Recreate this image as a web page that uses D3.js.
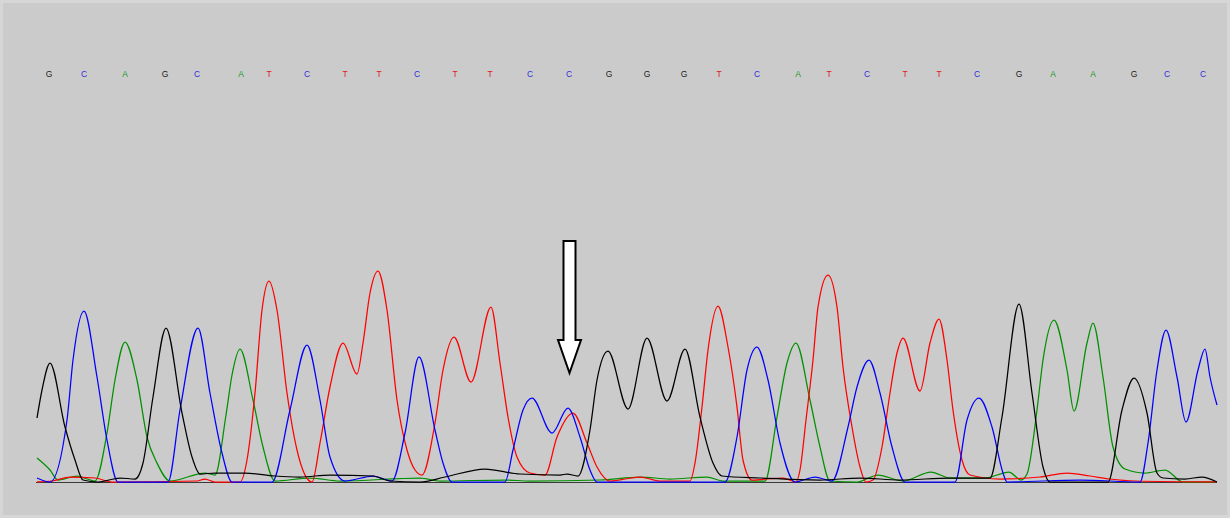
<!DOCTYPE html>
<html>
<head>
<meta charset="utf-8">
<script src="https://cdn.jsdelivr.net/npm/d3@7"></script>
<style>
  html, body { margin: 0; padding: 0; background: #d6d6d6; }
  svg { display: block; }
</style>
</head>
<body>
<svg id="trace" width="1230" height="518"></svg>
<script>
// Base calls and their scan positions
const bases = ["G","C","A","G","C","A","T","C","T","T","C","T","T","C","C","G","G","G","T","C","A","T","C","T","T","C","G","A","A","G","C","C"];
const basePositions = [12, 47, 88, 128, 160, 204, 232, 270, 308, 342, 380, 418, 453, 493, 532, 572, 610, 647, 682, 720, 761, 792, 830, 868, 902, 940, 982, 1016, 1056, 1097, 1130, 1166];

// Fluorescence traces: [scan, signal] read at peaks, valleys and flanks
const traceG = [[0,64],[5,92],[13,119],[28,55],[38,22],[46,2],[61,0],[83,4],[98,3],[106,19],[116,85],[129,154],[145,69],[155,25],[163,8],[178,9],[208,9],[238,6],[263,5],[293,7],[336,6],[353,1],[383,0],[408,5],[448,13],[483,8],[523,7],[530,8],[541,6],[553,52],[560,102],[571,131],[591,73],[610,144],[630,81],[648,133],[663,65],[676,19],[685,6],[723,4],[783,2],[823,4],[863,2],[913,4],[953,4],[965,65],[982,178],[995,89],[1006,15],[1013,0],[1071,0],[1085,72],[1097,104],[1110,69],[1120,9],[1126,4],[1148,3],[1165,5],[1180,0]];

const traceC = [[0,4],[13,0],[30,62],[36,122],[47,171],[60,105],[70,42],[81,0],[131,0],[143,72],[161,154],[173,89],[185,29],[195,0],[235,0],[253,72],[270,137],[283,82],[293,25],[308,1],[336,6],[355,1],[368,49],[382,125],[398,52],[406,19],[415,0],[468,0],[476,32],[486,72],[495,84],[515,49],[531,74],[543,45],[553,12],[560,0],[688,0],[700,45],[710,112],[720,135],[731,102],[743,39],[758,0],[778,5],[795,1],[811,55],[820,95],[832,122],[843,89],[855,35],[868,0],[918,0],[930,62],[942,84],[955,55],[966,9],[970,0],[1043,2],[1103,0],[1111,39],[1120,112],[1129,152],[1140,105],[1149,60],[1161,112],[1168,133],[1173,105],[1180,77]];

const traceA = [[0,24],[13,12],[21,2],[40,6],[58,1],[70,49],[78,102],[88,140],[100,102],[110,45],[120,19],[133,1],[168,9],[178,7],[189,67],[195,107],[203,133],[216,82],[226,35],[238,1],[273,4],[303,1],[383,4],[403,1],[468,2],[493,1],[563,2],[603,5],[633,3],[670,5],[686,1],[728,1],[740,65],[750,119],[759,139],[773,82],[783,35],[793,1],[820,0],[841,7],[866,1],[894,10],[913,4],[948,4],[972,10],[984,2],[990,8],[1000,72],[1006,122],[1017,162],[1030,112],[1037,71],[1050,139],[1056,159],[1066,105],[1076,35],[1088,13],[1108,9],[1128,12],[1146,0],[1180,0]];

const traceT = [[0,0],[15,1],[33,5],[58,4],[75,0],[160,1],[168,3],[178,0],[203,0],[210,22],[218,89],[225,172],[232,201],[240,172],[250,89],[260,32],[275,0],[283,39],[293,95],[306,139],[320,108],[326,139],[333,189],[341,211],[350,172],[360,82],[370,32],[378,12],[385,7],[398,59],[406,112],[417,145],[434,100],[454,175],[463,119],[471,65],[480,25],[493,9],[508,7],[520,45],[536,69],[550,39],[560,15],[573,1],[603,5],[623,1],[653,1],[658,19],[665,75],[671,132],[681,176],[691,135],[700,75],[706,22],[715,2],[746,4],[759,0],[763,12],[769,62],[776,122],[781,175],[791,207],[800,175],[806,115],[815,55],[823,15],[829,0],[836,2],[845,35],[853,89],[860,129],[866,144],[883,91],[893,139],[902,163],[910,122],[916,72],[925,22],[933,7],[963,3],[1003,5],[1030,9],[1053,6],[1073,3],[1098,1],[1180,0]];

// Highlighted call (index into bases) and the arrow's vertical extent in signal units
const markedBase = 14;
const arrowTip = 109;
const arrowTail = 241;

const colors = { G: "#000000", C: "#0000ff", A: "#009000", T: "#ff0000" };
const labelColors = { G: "#1e1e1e", C: "#2f2fdd", A: "#1a9a1a", T: "#dd1c1c" };

const svg = d3.select("#trace");

// panel background
svg.append("rect")
  .attr("x", 3).attr("y", 3).attr("width", 1224).attr("height", 512)
  .attr("fill", "#cbcbcb");

const x = d3.scaleLinear().domain([0, 1180]).range([37, 1217]);
const y = d3.scaleLinear().domain([0, 230]).range([482, 252]);

// baseline axis
svg.append("line")
  .attr("x1", x(-1)).attr("x2", x(1180))
  .attr("y1", y(0) + 0.5).attr("y2", y(0) + 0.5)
  .attr("stroke", "#3a3a3a").attr("stroke-width", 1);

const line = d3.line()
  .x(d => x(d[0]))
  .y(d => y(d[1]))
  .curve(d3.curveMonotoneX);

const traces = [
  { base: "A", values: traceA },
  { base: "T", values: traceT },
  { base: "C", values: traceC },
  { base: "G", values: traceG }
];

svg.append("g").selectAll("path")
  .data(traces)
  .join("path")
  .attr("d", d => line(d.values))
  .attr("fill", "none")
  .attr("stroke", d => colors[d.base])
  .attr("stroke-width", 1.25)
  .attr("stroke-linejoin", "round");

// base-call letters
svg.append("g").selectAll("text")
  .data(bases)
  .join("text")
  .attr("x", (d, i) => x(basePositions[i]))
  .attr("y", 76.5)
  .attr("text-anchor", "middle")
  .attr("font-family", "Liberation Sans, Arial, sans-serif")
  .attr("font-size", 8.5)
  .attr("fill", d => labelColors[d])
  .text(d => d);

// arrow marking the mixed call
const ax = x(basePositions[markedBase]) + 0.5;
const tipY = y(arrowTip), tailY = y(arrowTail);
const shaftHalf = 6, headHalf = 11.5, headLen = 33;
const arrowPath = d3.path();
arrowPath.moveTo(ax - shaftHalf, tailY);
arrowPath.lineTo(ax + shaftHalf, tailY);
arrowPath.lineTo(ax + shaftHalf, tipY - headLen);
arrowPath.lineTo(ax + headHalf, tipY - headLen);
arrowPath.lineTo(ax, tipY);
arrowPath.lineTo(ax - headHalf, tipY - headLen);
arrowPath.lineTo(ax - shaftHalf, tipY - headLen);
arrowPath.closePath();
svg.append("path")
  .attr("d", arrowPath.toString())
  .attr("fill", "#ffffff")
  .attr("stroke", "#000000")
  .attr("stroke-width", 2)
  .attr("stroke-linejoin", "miter");
</script>
</body>
</html>
